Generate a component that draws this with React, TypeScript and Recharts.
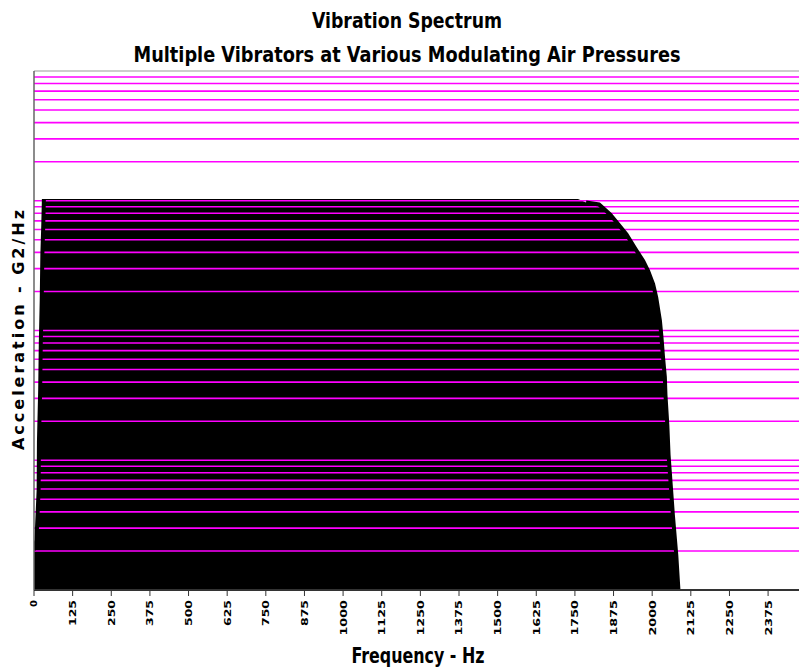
import React from "react";
import {
  ComposedChart,
  Area,
  Line,
  XAxis,
  YAxis,
  ReferenceLine,
} from "recharts";

// spectrum outline (Hz, G2/Hz)
const freqHz = [
  0, 8, 15, 16, 20, 22, 25, 27, 30, 32, 500, 1000, 1500, 1760, 1786, 1828,
  1864, 1891, 1917, 1944, 1971, 1987, 2003, 2013, 2025, 2030, 2035, 2041,
  2043, 2049, 2053, 2060, 2067, 2078, 2084, 2085,
];
const accel = [
  2.03e-4, 2.43e-4, 5.9e-4, 1.38e-3, 3.48e-3, 8.01e-3, 1.72e-2, 3.82e-2,
  6.5e-2, 0.1031, 0.1031, 0.1031, 0.1031, 0.1031, 0.0969, 0.0936, 0.0784,
  0.0656, 0.055, 0.0432, 0.0343, 0.0287, 0.0228, 0.018, 0.01194, 0.00891,
  0.00625, 0.00438, 0.00318, 0.00187, 0.0011, 0.000645, 0.000378, 0.000186,
  0.000109, 0.0001,
];

const xTicks = [
  0, 125, 250, 375, 500, 625, 750, 875, 1000, 1125, 1250, 1375, 1500, 1625,
  1750, 1875, 2000, 2125, 2250, 2375,
];

// log grid lines (magenta)
const gridValues = [
  0.0002, 0.0003, 0.0004, 0.0005, 0.0006, 0.0007, 0.0008, 0.0009,
  0.001, 0.002, 0.003, 0.004, 0.005, 0.006, 0.007, 0.008, 0.009,
  0.01, 0.02, 0.03, 0.04, 0.05, 0.06, 0.07, 0.08, 0.09,
  0.1, 0.2, 0.3, 0.4, 0.5, 0.6, 0.7, 0.8, 0.9,
];

const data = freqHz.map((hz, i) => ({ hz, acc: accel[i] }));

// only the sloped edges get the heavy outline
const edgeKey = (d: any) => (d.hz <= 35 || d.hz >= 1780 ? d.acc : null);

const renderTick = (props: any) => {
  const { x, y, payload, index } = props;
  const label = String(payload.value);
  return (
    <text
      key={`t-${index}`}
      transform={`translate(${x},${y + 2}) rotate(-90)`}
      textAnchor="end"
      dy="0.36em"
      fontFamily="DejaVu Sans"
      fontWeight="bold"
      fontSize={9.5}
      textLength={label.length * 9.5 - 2.5}
      lengthAdjust="spacingAndGlyphs"
      fill="#000"
    >
      {label}
    </text>
  );
};

const titleFont = '"Liberation Sans Narrow", "DejaVu Sans Condensed", sans-serif';

export default function App() {
  return (
    <div style={{ position: "absolute", left: 0, top: 0, width: 799, height: 669, background: "#fff" }}>
      <ComposedChart
        width={799}
        height={669}
        data={data}
        margin={{ top: 71, right: 0, bottom: 49, left: 30 }}
      >
        <XAxis
          dataKey="hz"
          type="number"
          domain={[0, 2475]}
          ticks={xTicks}
          interval={0}
          allowDataOverflow
          height={30}
          tickSize={6}
          tickMargin={2}
          tick={renderTick}
          tickLine={{ stroke: "#333" }}
          axisLine={{ stroke: "#333", strokeWidth: 2 }}
        />
        <YAxis
          type="number"
          scale="log"
          domain={[0.0001, 1]}
          allowDataOverflow
          width={4}
          tick={false}
          tickLine={false}
          axisLine={{ stroke: "#666", strokeWidth: 1.5 }}
        />
        <Area
          type="linear"
          dataKey="acc"
          fill="#000"
          fillOpacity={1}
          stroke="none"
          isAnimationActive={false}
          zIndex={100}
        />
        {gridValues.map((v) => (
          <ReferenceLine key={v} y={v} stroke="#ff00ff" strokeWidth={1.6} zIndex={150} />
        ))}
        <ReferenceLine y={1} stroke="#999" strokeWidth={1} zIndex={150} />
        <Line
          type="linear"
          dataKey={edgeKey}
          stroke="#000"
          strokeWidth={4}
          dot={false}
          activeDot={false}
          isAnimationActive={false}
          zIndex={400}
        />
      </ComposedChart>
      <svg
        width={799}
        height={669}
        style={{ position: "absolute", left: 0, top: 0, pointerEvents: "none" }}
      >
        <text x={407} y={28} textAnchor="middle" fontFamily={titleFont} fontWeight="bold" fontSize={21} textLength={190} lengthAdjust="spacingAndGlyphs">
          Vibration Spectrum
        </text>
        <text x={407} y={62} textAnchor="middle" fontFamily={titleFont} fontWeight="bold" fontSize={21} textLength={547} lengthAdjust="spacingAndGlyphs">
          Multiple Vibrators at Various Modulating Air Pressures
        </text>
        <text x={418} y={663} textAnchor="middle" fontFamily={titleFont} fontWeight="bold" fontSize={21} textLength={133} lengthAdjust="spacingAndGlyphs">
          Frequency - Hz
        </text>
        <text
          transform="translate(24,330) rotate(-90)"
          textAnchor="middle"
          fontFamily="DejaVu Sans"
          fontWeight="bold"
          fontSize={16}
          textLength={240}
          lengthAdjust="spacing"
        >
          Acceleration - G2/Hz
        </text>
      </svg>
    </div>
  );
}
